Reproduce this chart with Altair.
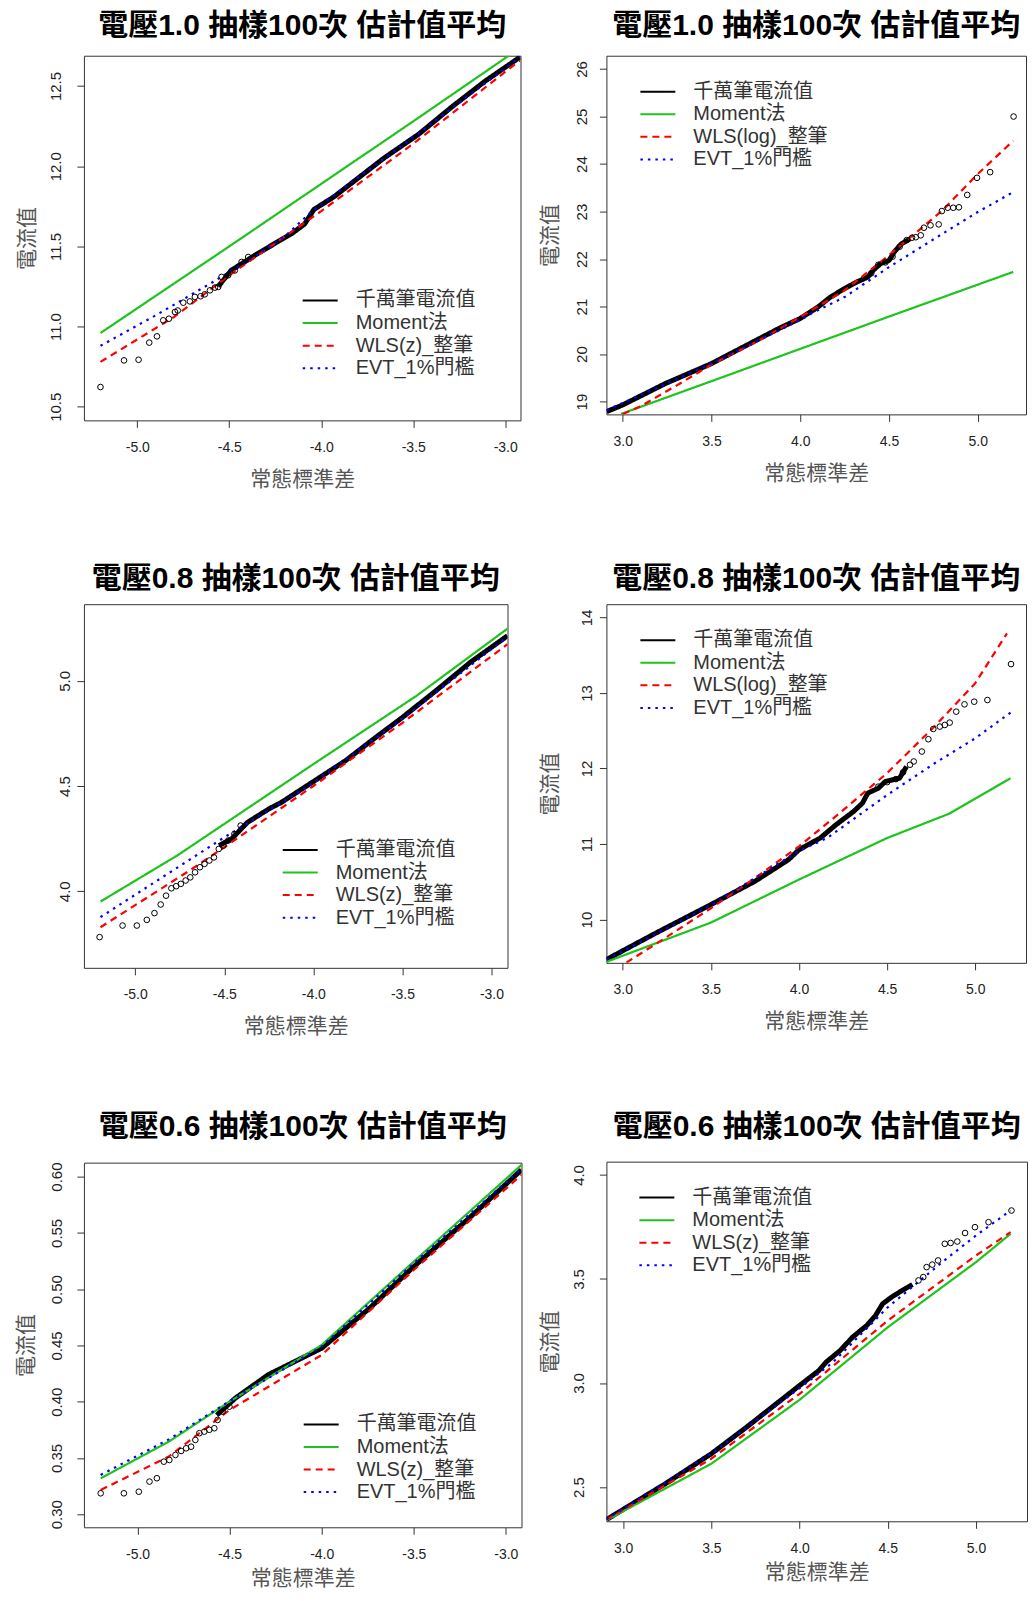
import altair as alt
import pandas as pd

# ---------------- series names / styles ----------------
SERIES_Z = ["千萬筆電流值", "Moment法", "WLS(z)_整筆", "EVT_1%門檻"]
SERIES_LOG = ["千萬筆電流值", "Moment法", "WLS(log)_整筆", "EVT_1%門檻"]
COLORS = ["#000000", "#1ec31e", "#ff0000", "#0000ff"]
DASHES = [[1, 0], [1, 0], [7, 5], [2.5, 5]]

X_TICKS_NEG = [-5.0, -4.5, -4.0, -3.5, -3.0]
X_TICKS_POS = [3.0, 3.5, 4.0, 4.5, 5.0]

# ---------------- panel 1: 電壓1.0 (lower tail) ----------------
P1_BLACK_X = [-4.56, -4.49, -4.36, -4.25, -4.16, -4.09, -4.04, -3.93, -3.84, -3.66, -3.47, -3.29, -3.11, -2.92]
P1_BLACK_Y = [11.25, 11.35, 11.445, 11.52, 11.58, 11.64, 11.73, 11.81, 11.89, 12.05, 12.20, 12.37, 12.53, 12.68]
P1_GREEN_X = [-5.2, -4.5, -4.0, -3.5, -2.98]
P1_GREEN_Y = [10.96, 11.50, 11.89, 12.28, 12.69]
P1_RED_X = [-5.2, -4.8, -4.5, -4.2, -4.0, -3.5, -2.92]
P1_RED_Y = [10.78, 11.06, 11.32, 11.56, 11.72, 12.14, 12.66]
P1_BLUE_X = [-5.2, -4.9, -4.6, -4.4, -4.2, -4.05, -3.5, -2.92]
P1_BLUE_Y = [10.88, 11.07, 11.27, 11.41, 11.56, 11.72, 12.18, 12.68]
P1_PTS_X = [-5.2, -5.072, -4.993, -4.935, -4.893, -4.859, -4.828, -4.795, -4.78, -4.75, -4.714,
            -4.687, -4.656, -4.633, -4.605, -4.578, -4.56, -4.542, -4.506, -4.47, -4.433, -4.397]
P1_PTS_Y = [10.623, 10.789, 10.793, 10.90, 10.939, 11.039, 11.049, 11.091, 11.10, 11.149, 11.157,
            11.185, 11.189, 11.201, 11.226, 11.243, 11.247, 11.31, 11.32, 11.35, 11.403, 11.434]

# ---------------- panel 2: 電壓1.0 (upper tail) ----------------
P2_BLACK_X = [2.91, 3.0, 3.24, 3.5, 3.7, 3.88, 4.0, 4.1, 4.17, 4.25, 4.32, 4.38, 4.41, 4.45, 4.5, 4.53, 4.57, 4.62]
P2_BLACK_Y = [18.79, 18.93, 19.38, 19.80, 20.19, 20.54, 20.75, 20.99, 21.20, 21.38, 21.52, 21.62, 21.76, 21.90, 21.97, 22.15, 22.32, 22.43]
P2_GREEN_X = [2.99, 3.5, 4.0, 4.5, 5.2]
P2_GREEN_Y = [18.74, 19.43, 20.11, 20.79, 21.73]
P2_RED_X = [3.0, 3.1, 3.3, 3.5, 3.75, 4.0, 4.25, 4.5, 4.8, 5.0, 5.2]
P2_RED_Y = [18.74, 18.90, 19.33, 19.78, 20.25, 20.78, 21.34, 22.08, 23.02, 23.79, 24.49]
P2_BLUE_X = [2.91, 3.5, 4.0, 4.06, 4.25, 4.5, 4.8, 5.0, 5.2]
P2_BLUE_Y = [18.82, 19.80, 20.72, 20.85, 21.20, 21.83, 22.53, 22.99, 23.41]
P2_PTS_X = [4.40, 4.44, 4.48, 4.52, 4.56, 4.60, 4.63, 4.651, 4.679, 4.697, 4.734, 4.78, 4.798,
            4.831, 4.862, 4.894, 4.941, 4.996, 5.07, 5.202]
P2_PTS_Y = [21.70, 21.88, 21.93, 22.05, 22.26, 22.40, 22.45, 22.46, 22.50, 22.66, 22.71, 22.73, 23.01,
            23.08, 23.08, 23.09, 23.35, 23.71, 23.83, 25.0]

# ---------------- panel 3: 電壓0.8 (lower tail) ----------------
P3_BLACK_X = [-4.53, -4.46, -4.37, -4.25, -4.18, -4.0, -3.82, -3.65, -3.5, -3.29, -3.12, -2.91]
P3_BLACK_Y = [4.217, 4.248, 4.327, 4.391, 4.422, 4.521, 4.620, 4.731, 4.826, 4.968, 5.087, 5.214]
P3_GREEN_X = [-5.195, -4.76, -4.0, -3.42, -2.91]
P3_GREEN_Y = [3.951, 4.172, 4.604, 4.929, 5.248]
P3_RED_X = [-5.195, -4.71, -4.5, -4.0, -3.5, -2.91]
P3_RED_Y = [3.829, 4.09, 4.209, 4.50, 4.80, 5.174]
P3_BLUE_X = [-5.195, -4.5, -4.39, -4.0, -3.5, -2.91]
P3_BLUE_Y = [3.877, 4.256, 4.312, 4.515, 4.82, 5.21]
P3_PTS_X = [-5.2, -5.071, -4.991, -4.935, -4.892, -4.857, -4.827, -4.797, -4.77, -4.744, -4.717,
            -4.691, -4.664, -4.637, -4.611, -4.584, -4.558, -4.531, -4.505, -4.478, -4.443, -4.408]
P3_PTS_Y = [3.782, 3.837, 3.837, 3.864, 3.896, 3.937, 3.979, 4.014, 4.024, 4.035, 4.051,
            4.066, 4.09, 4.114, 4.13, 4.146, 4.161, 4.201, 4.217, 4.241, 4.272, 4.312]

# ---------------- panel 4: 電壓0.8 (upper tail) ----------------
P4_BLACK_X = [2.907, 3.19, 3.5, 3.75, 3.94, 4.0, 4.12, 4.21, 4.31, 4.36, 4.39, 4.45, 4.49, 4.57, 4.61]
P4_BLACK_Y = [9.471, 9.824, 10.198, 10.507, 10.793, 10.925, 11.079, 11.256, 11.432, 11.542, 11.674, 11.74, 11.828, 11.872, 12.026]
P4_GREEN_X = [2.907, 3.5, 4.0, 4.5, 4.85, 5.2]
P4_GREEN_Y = [9.44, 9.96, 10.53, 11.08, 11.40, 11.87]
P4_RED_X = [3.02, 3.23, 3.5, 3.75, 4.0, 4.21, 4.5, 4.77, 5.0, 5.18]
P4_RED_Y = [9.43, 9.74, 10.15, 10.55, 10.97, 11.37, 11.94, 12.56, 13.13, 13.79]
P4_BLUE_X = [2.907, 3.5, 4.0, 4.16, 4.5, 4.77, 5.0, 5.2]
P4_BLUE_Y = [9.47, 10.19, 10.91, 11.08, 11.65, 12.07, 12.40, 12.74]
P4_PTS_X = [4.45, 4.50, 4.55, 4.59, 4.63, 4.651, 4.697, 4.734, 4.762, 4.799, 4.827, 4.855, 4.892,
            4.939, 4.994, 5.069, 5.203]
P4_PTS_Y = [11.76, 11.82, 11.86, 11.95, 12.05, 12.093, 12.225, 12.388, 12.524, 12.555, 12.577, 12.608, 12.753,
            12.85, 12.885, 12.907, 13.383]

# ---------------- panel 5: 電壓0.6 (lower tail) ----------------
P5_BLACK_X = [-4.57, -4.47, -4.29, -4.0, -3.74, -3.5, -3.2, -2.915]
P5_BLACK_Y = [0.388, 0.403, 0.424, 0.4475, 0.483, 0.520, 0.563, 0.606]
P5_GREEN_X = [-5.2, -4.83, -4.5, -4.0, -3.5, -2.915]
P5_GREEN_Y = [0.3319, 0.3645, 0.4001, 0.4504, 0.5245, 0.6104]
P5_RED_X = [-5.2, -4.83, -4.5, -4.0, -3.5, -2.915]
P5_RED_Y = [0.3216, 0.3512, 0.3927, 0.4415, 0.517, 0.6015]
P5_BLUE_X = [-5.2, -4.83, -4.5, -4.0, -3.5, -2.915]
P5_BLUE_Y = [0.3349, 0.3665, 0.4005, 0.449, 0.523, 0.607]
P5_PTS_X = [-5.2, -5.074, -4.993, -4.935, -4.895, -4.857, -4.827, -4.794, -4.763, -4.736, -4.709,
            -4.686, -4.664, -4.637, -4.61, -4.583, -4.565, -4.538, -4.501]
P5_PTS_Y = [0.3186, 0.3186, 0.320, 0.329, 0.332, 0.3467, 0.3482, 0.3527, 0.3562, 0.3586, 0.360,
            0.366, 0.372, 0.3734, 0.375, 0.3764, 0.3838, 0.3912, 0.3956]

# ---------------- panel 6: 電壓0.6 (upper tail) ----------------
P6_BLACK_X = [2.905, 3.24, 3.5, 3.7, 4.0, 4.11, 4.15, 4.23, 4.3, 4.38, 4.43, 4.47, 4.52, 4.58, 4.64]
P6_BLACK_Y = [2.343, 2.516, 2.66, 2.788, 2.988, 3.06, 3.10, 3.156, 3.22, 3.276, 3.324, 3.38, 3.412, 3.444, 3.473]
P6_GREEN_X = [2.905, 3.5, 4.0, 4.5, 5.0, 5.196]
P6_GREEN_Y = [2.34, 2.612, 2.919, 3.268, 3.581, 3.717]
P6_RED_X = [2.905, 3.5, 4.0, 4.5, 5.0, 5.196]
P6_RED_Y = [2.343, 2.636, 2.948, 3.30, 3.613, 3.725]
P6_BLUE_X = [2.905, 3.5, 4.0, 4.19, 4.5, 4.82, 5.0, 5.196]
P6_BLUE_Y = [2.345, 2.66, 2.975, 3.10, 3.364, 3.589, 3.709, 3.829]
P6_PTS_X = [4.674, 4.701, 4.72, 4.752, 4.785, 4.823, 4.856, 4.894, 4.938, 4.994, 5.071, 5.201]
P6_PTS_Y = [3.493, 3.509, 3.557, 3.569, 3.589, 3.669, 3.673, 3.68, 3.721, 3.749, 3.773, 3.829]

LAT = "Liberation Sans, Noto Sans CJK TC"
CJK = "Noto Sans CJK TC, Liberation Sans"


def label_expr(fmt):
    return "replace(format(datum.value, '" + fmt + "'), '\u2212', '-')"


def make_panel(title, names, black, green, red, blue, pts, xdom, ydom, xticks, yticks, yfmt,
               w, h, lx, ly, ylp, yext, ytp, ytitle, xtp, toff):
    rows = []
    for name, (xs, ys) in zip(names, [black, green, red, blue]):
        for a, b in zip(xs, ys):
            rows.append({"x": a, "y": b, "series": name})
    lines_df = pd.DataFrame(rows)
    pts_df = pd.DataFrame({"x": pts[0], "y": pts[1]})

    x_axis = alt.Axis(values=xticks, labelExpr=label_expr(".1f"), labelFont=LAT, labelFontSize=14,
                      labelColor="#222", labelPadding=13, tickSize=7, tickColor="#333",
                      labelFlush=False, labelOverlap=False,
                      title="常態標準差", titleFont=CJK, titleFontSize=21, titleFontWeight="normal",
                      titleColor="#555", titlePadding=xtp)
    y_kwargs = dict(values=yticks, labelExpr=label_expr(yfmt), labelFont=LAT, labelFontSize=15,
                    labelColor="#222", labelAngle=270, labelAlign="center", labelBaseline="bottom",
                    labelPadding=ylp, tickSize=7, tickColor="#333", labelOverlap=False,
                    minExtent=yext, maxExtent=yext)
    if ytitle:
        y_axis = alt.Axis(title=ytitle, titleFont=CJK, titleFontSize=21, titleFontWeight="normal",
                          titleColor="#555", titlePadding=ytp, **y_kwargs)
    else:
        y_axis = alt.Axis(title=None, **y_kwargs)

    xenc = alt.X("x:Q", scale=alt.Scale(domain=xdom, zero=False, nice=False), axis=x_axis)
    yenc = alt.Y("y:Q", scale=alt.Scale(domain=ydom, zero=False, nice=False), axis=y_axis)
    leg = alt.Legend(title=None, orient="none", legendX=lx, legendY=ly)

    lines = alt.Chart(lines_df).mark_line(clip=True, strokeJoin="round").encode(
        x=xenc,
        y=yenc,
        color=alt.Color("series:N", scale=alt.Scale(domain=names, range=COLORS), legend=leg),
        strokeDash=alt.StrokeDash("series:N", scale=alt.Scale(domain=names, range=DASHES), legend=leg),
        strokeWidth=alt.condition(alt.datum.series == names[0], alt.value(5), alt.value(2.2)),
    )
    circles = alt.Chart(pts_df).mark_point(shape="circle", filled=False, color="black", size=32,
                                           strokeWidth=1, opacity=1, clip=True).encode(x=xenc, y=yenc)
    return alt.layer(lines, circles).properties(
        width=w, height=h,
        title=alt.TitleParams(text=title, font=LAT, fontSize=30, fontWeight="bold", color="#000",
                              anchor="middle", frame="group", offset=toff),
    )


p1 = make_panel("電壓1.0 抽樣100次 估計值平均", SERIES_Z, (P1_BLACK_X, P1_BLACK_Y), (P1_GREEN_X, P1_GREEN_Y),
                (P1_RED_X, P1_RED_Y), (P1_BLUE_X, P1_BLUE_Y), (P1_PTS_X, P1_PTS_Y),
                [-5.29, -2.917], [10.415, 12.689], X_TICKS_NEG, [10.5, 11.0, 11.5, 12.0, 12.5], ".1f",
                437, 365, 218, 235, 13.5, 36, 10.5, "電流值", 14, 15)
p2 = make_panel("電壓1.0 抽樣100次 估計值平均", SERIES_LOG, (P2_BLACK_X, P2_BLACK_Y), (P2_GREEN_X, P2_GREEN_Y),
                (P2_RED_X, P2_RED_Y), (P2_BLUE_X, P2_BLUE_Y), (P2_PTS_X, P2_PTS_Y),
                [2.908, 5.272], [18.731, 26.28], X_TICKS_POS, [19, 20, 21, 22, 23, 24, 25, 26], "d",
                420, 359, 33, 26, 9.5, 36, 9.5, "電流值", 14, 15)
p3 = make_panel("電壓0.8 抽樣100次 估計值平均", SERIES_Z, (P3_BLACK_X, P3_BLACK_Y), (P3_GREEN_X, P3_GREEN_Y),
                (P3_RED_X, P3_RED_Y), (P3_BLUE_X, P3_BLUE_Y), (P3_PTS_X, P3_PTS_Y),
                [-5.288, -2.910], [3.636, 5.364], X_TICKS_NEG, [4.0, 4.5, 5.0], ".1f",
                424, 364, 198, 236, 4.5, 42, 0, None, 14, 10)
p4 = make_panel("電壓0.8 抽樣100次 估計值平均", SERIES_LOG, (P4_BLACK_X, P4_BLACK_Y), (P4_GREEN_X, P4_GREEN_Y),
                (P4_RED_X, P4_RED_Y), (P4_BLUE_X, P4_BLUE_Y), (P4_PTS_X, P4_PTS_Y),
                [2.907, 5.288], [9.427, 14.176], X_TICKS_POS, [10, 11, 12, 13, 14], "d",
                420, 359, 33, 26, 4.5, 36, 9.5, "電流值", 14, 10)
p5 = make_panel("電壓0.6 抽樣100次 估計值平均", SERIES_Z, (P5_BLACK_X, P5_BLACK_Y), (P5_GREEN_X, P5_GREEN_Y),
                (P5_RED_X, P5_RED_Y), (P5_BLUE_X, P5_BLUE_Y), (P5_PTS_X, P5_PTS_Y),
                [-5.291, -2.915], [0.2884, 0.6124], X_TICKS_NEG, [0.30, 0.35, 0.40, 0.45, 0.50, 0.55, 0.60], ".2f",
                438, 365, 219, 252, 12.5, 36, 11, "電流值", 6, 20)
p6 = make_panel("電壓0.6 抽樣100次 估計值平均", SERIES_Z, (P6_BLACK_X, P6_BLACK_Y), (P6_GREEN_X, P6_GREEN_Y),
                (P6_RED_X, P6_RED_Y), (P6_BLUE_X, P6_BLUE_Y), (P6_PTS_X, P6_PTS_Y),
                [2.905, 5.289], [2.335, 4.064], X_TICKS_POS, [2.5, 3.0, 3.5, 4.0], ".1f",
                421, 360, 32, 26, 12.5, 36, 9.5, "電流值", 6, 20)

chart = (
    alt.concat(p1, p2, p3, p4, p5, p6, columns=2, align="none",
               spacing={"row": 73, "column": 17})
    .resolve_scale(color="independent", strokeDash="independent")
    .resolve_legend(color="independent", strokeDash="independent")
    .properties(padding={"left": 7, "top": 1, "right": 0, "bottom": 6}, background="white")
    .configure_view(stroke="#333", strokeWidth=1, fill="white")
    .configure_axis(domain=False, grid=False, tickWidth=1)
    .configure_legend(labelFont=LAT, labelFontSize=20, labelColor="#333", symbolType="stroke",
                      symbolSize=1225, symbolStrokeWidth=2, labelOffset=17, rowPadding=2.6,
                      clipHeight=20, padding=0, labelLimit=400)
)

chart.save("out.html", embed_options={"renderer": "svg", "actions": False})
